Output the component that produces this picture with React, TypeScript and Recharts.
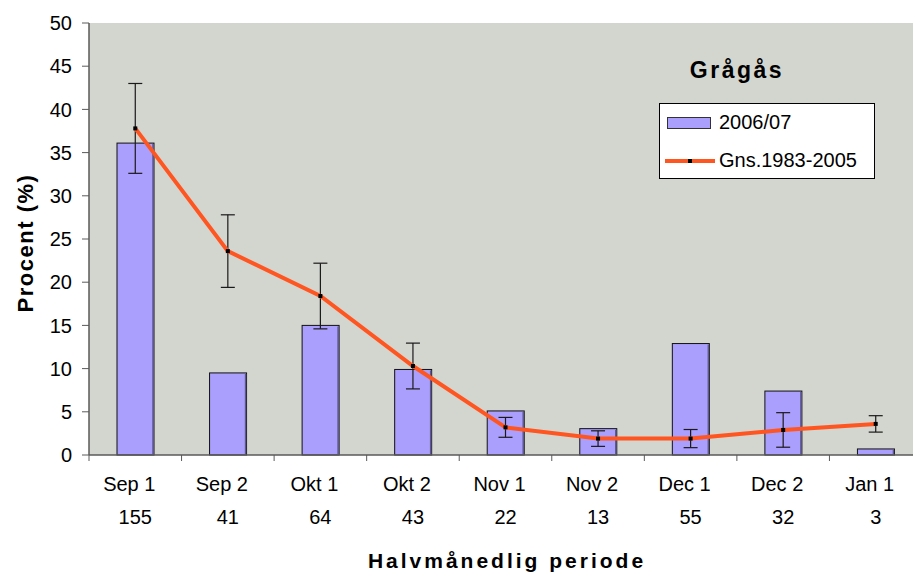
import {
  ComposedChart,
  Bar,
  Line,
  XAxis,
  YAxis,
  CartesianGrid,
  Legend,
  ErrorBar,
  Label,
} from 'recharts'

const periods = ['Sep 1', 'Sep 2', 'Okt 1', 'Okt 2', 'Nov 1', 'Nov 2', 'Dec 1', 'Dec 2', 'Jan 1']
const counts = [155, 41, 64, 43, 22, 13, 55, 32, 3]
const season2006 = [36.1, 9.5, 15.0, 9.9, 5.1, 3.05, 12.9, 7.4, 0.7]
const avg19832005 = [37.8, 23.6, 18.4, 10.3, 3.2, 1.9, 1.9, 2.9, 3.6]
const avgErr = [5.2, 4.2, 3.8, 2.65, 1.15, 0.9, 1.05, 2.0, 0.95]
const yTicks = [0, 5, 10, 15, 20, 25, 30, 35, 40, 45, 50]

const data = periods.map((p, i) => ({
  period: p,
  count: counts[i],
  season: season2006[i],
  avg: avg19832005[i],
  err: avgErr[i],
}))

const FONT = 'Arial, "Liberation Sans", sans-serif'
const AXIS = '#5a5a5a'
const BAR_FILL = '#ab9ffd'
const LINE = '#ff5520'

// plot geometry (chart is a bit wider than the window, like the original crop)
const CHART_W = 922
const CHART_H = 574
const LEFT = 89
const BAND = (CHART_W - LEFT) / periods.length

const PeriodTick = (props: any) => {
  const { x, y, payload, index } = props
  const row = data[index] ?? data.find((d) => d.period === payload.value)
  return (
    <g>
      <line x1={x - BAND / 2} y1={y} x2={x - BAND / 2} y2={y + 6} stroke={AXIS} />
      <text x={x - 6} y={y + 36} textAnchor="middle" fontSize={20} fill="#000" fontFamily={FONT}>
        {payload.value}
      </text>
      <text x={x} y={y + 69} textAnchor="middle" fontSize={20} fill="#000" fontFamily={FONT}>
        {row ? row.count : ''}
      </text>
    </g>
  )
}

const ShadedBar = (props: any) => {
  const { x, y, width, height } = props
  if (!height || height <= 0) return null
  return (
    <g>
      <rect x={x} y={y} width={width} height={height} fill={BAR_FILL} stroke="#111" strokeWidth={1} />
      <line x1={x + width - 1} y1={y + 1} x2={x + width - 1} y2={y + height} stroke="#5d5890" strokeWidth={1.5} />
    </g>
  )
}

const SquareDot = (props: any) => {
  const { cx, cy, index } = props
  if (cx == null || cy == null) return null
  return <rect key={index} x={cx - 2} y={cy - 2} width={4} height={4} fill="#000" />
}

const LegendBox = () => (
  <div
    style={{
      width: 216,
      height: 76,
      background: '#fff',
      border: '1px solid #000',
      fontFamily: FONT,
      fontSize: 20,
      color: '#000',
      boxSizing: 'border-box',
      position: 'relative',
    }}
  >
    <div style={{ position: 'absolute', left: 7, top: 13, width: 44, height: 12, background: BAR_FILL, border: '1px solid #333', boxSizing: 'border-box' }} />
    <span style={{ position: 'absolute', left: 59, top: 7, lineHeight: '22px' }}>2006/07</span>
    <div style={{ position: 'absolute', left: 5, top: 55, width: 50, height: 4, background: LINE }} />
    <div style={{ position: 'absolute', left: 28, top: 55, width: 4, height: 4, background: '#000' }} />
    <span style={{ position: 'absolute', left: 59, top: 45, lineHeight: '22px' }}>Gns.1983-2005</span>
  </div>
)

export default function App() {
  return (
    <div style={{ position: 'absolute', left: 0, top: 0, width: 913, height: 574, overflow: 'hidden', background: '#fff' }}>
      <ComposedChart
        width={CHART_W}
        height={CHART_H}
        data={data}
        margin={{ top: 23, right: 0, left: 0, bottom: 0 }}
        barSize={37}
      >
        <CartesianGrid horizontal={false} vertical={false} fill="#d3d5cf" stroke="none" />
        <XAxis
          dataKey="period"
          height={119}
          tick={<PeriodTick />}
          tickLine={false}
          tickSize={0}
          tickMargin={0}
          axisLine={{ stroke: AXIS, strokeWidth: 1.5 }}
          interval={0}
        >
          <Label
            content={() => (
              <text x={507} y={568} textAnchor="middle" fontSize={21} fontWeight="bold" letterSpacing={3} fontFamily={FONT} fill="#000">
                Halvmånedlig periode
              </text>
            )}
          />
        </XAxis>
        <YAxis
          width={LEFT}
          domain={[0, 50]}
          ticks={yTicks}
          interval={0}
          tickSize={7}
          tickMargin={10}
          tick={{ fontSize: 20, fill: '#000', fontFamily: FONT }}
          tickLine={{ stroke: AXIS }}
          axisLine={{ stroke: AXIS, strokeWidth: 1.5 }}
        >
          <Label
            content={() => (
              <text
                x={25}
                y={243}
                transform="rotate(-90 25 243)"
                textAnchor="middle"
                dominantBaseline="central"
                fontSize={22}
                fontWeight="bold"
                letterSpacing={1.5}
                fontFamily={FONT}
                fill="#000"
              >
                Procent (%)
              </text>
            )}
          />
        </YAxis>
        <Legend
          layout="horizontal"
          verticalAlign="middle"
          align="center"
          content={<LegendBox />}
          wrapperStyle={{ position: 'absolute', left: 659, top: 103, width: 216, height: 76 }}
        />
        <Bar dataKey="season" name="2006/07" shape={<ShadedBar />} isAnimationActive={false} />
        <Line
          dataKey="avg"
          name="Gns.1983-2005"
          stroke={LINE}
          strokeWidth={4}
          dot={<SquareDot />}
          activeDot={false}
          isAnimationActive={false}
        >
          <ErrorBar dataKey="err" direction="y" width={7} stroke="#1a1a1a" strokeWidth={1.2} isAnimationActive={false} />
        </Line>
        <text x={737} y={78} textAnchor="middle" fontSize={23} fontWeight="bold" letterSpacing={2.5} fontFamily={FONT} fill="#000">
          Grågås
        </text>
      </ComposedChart>
    </div>
  )
}
